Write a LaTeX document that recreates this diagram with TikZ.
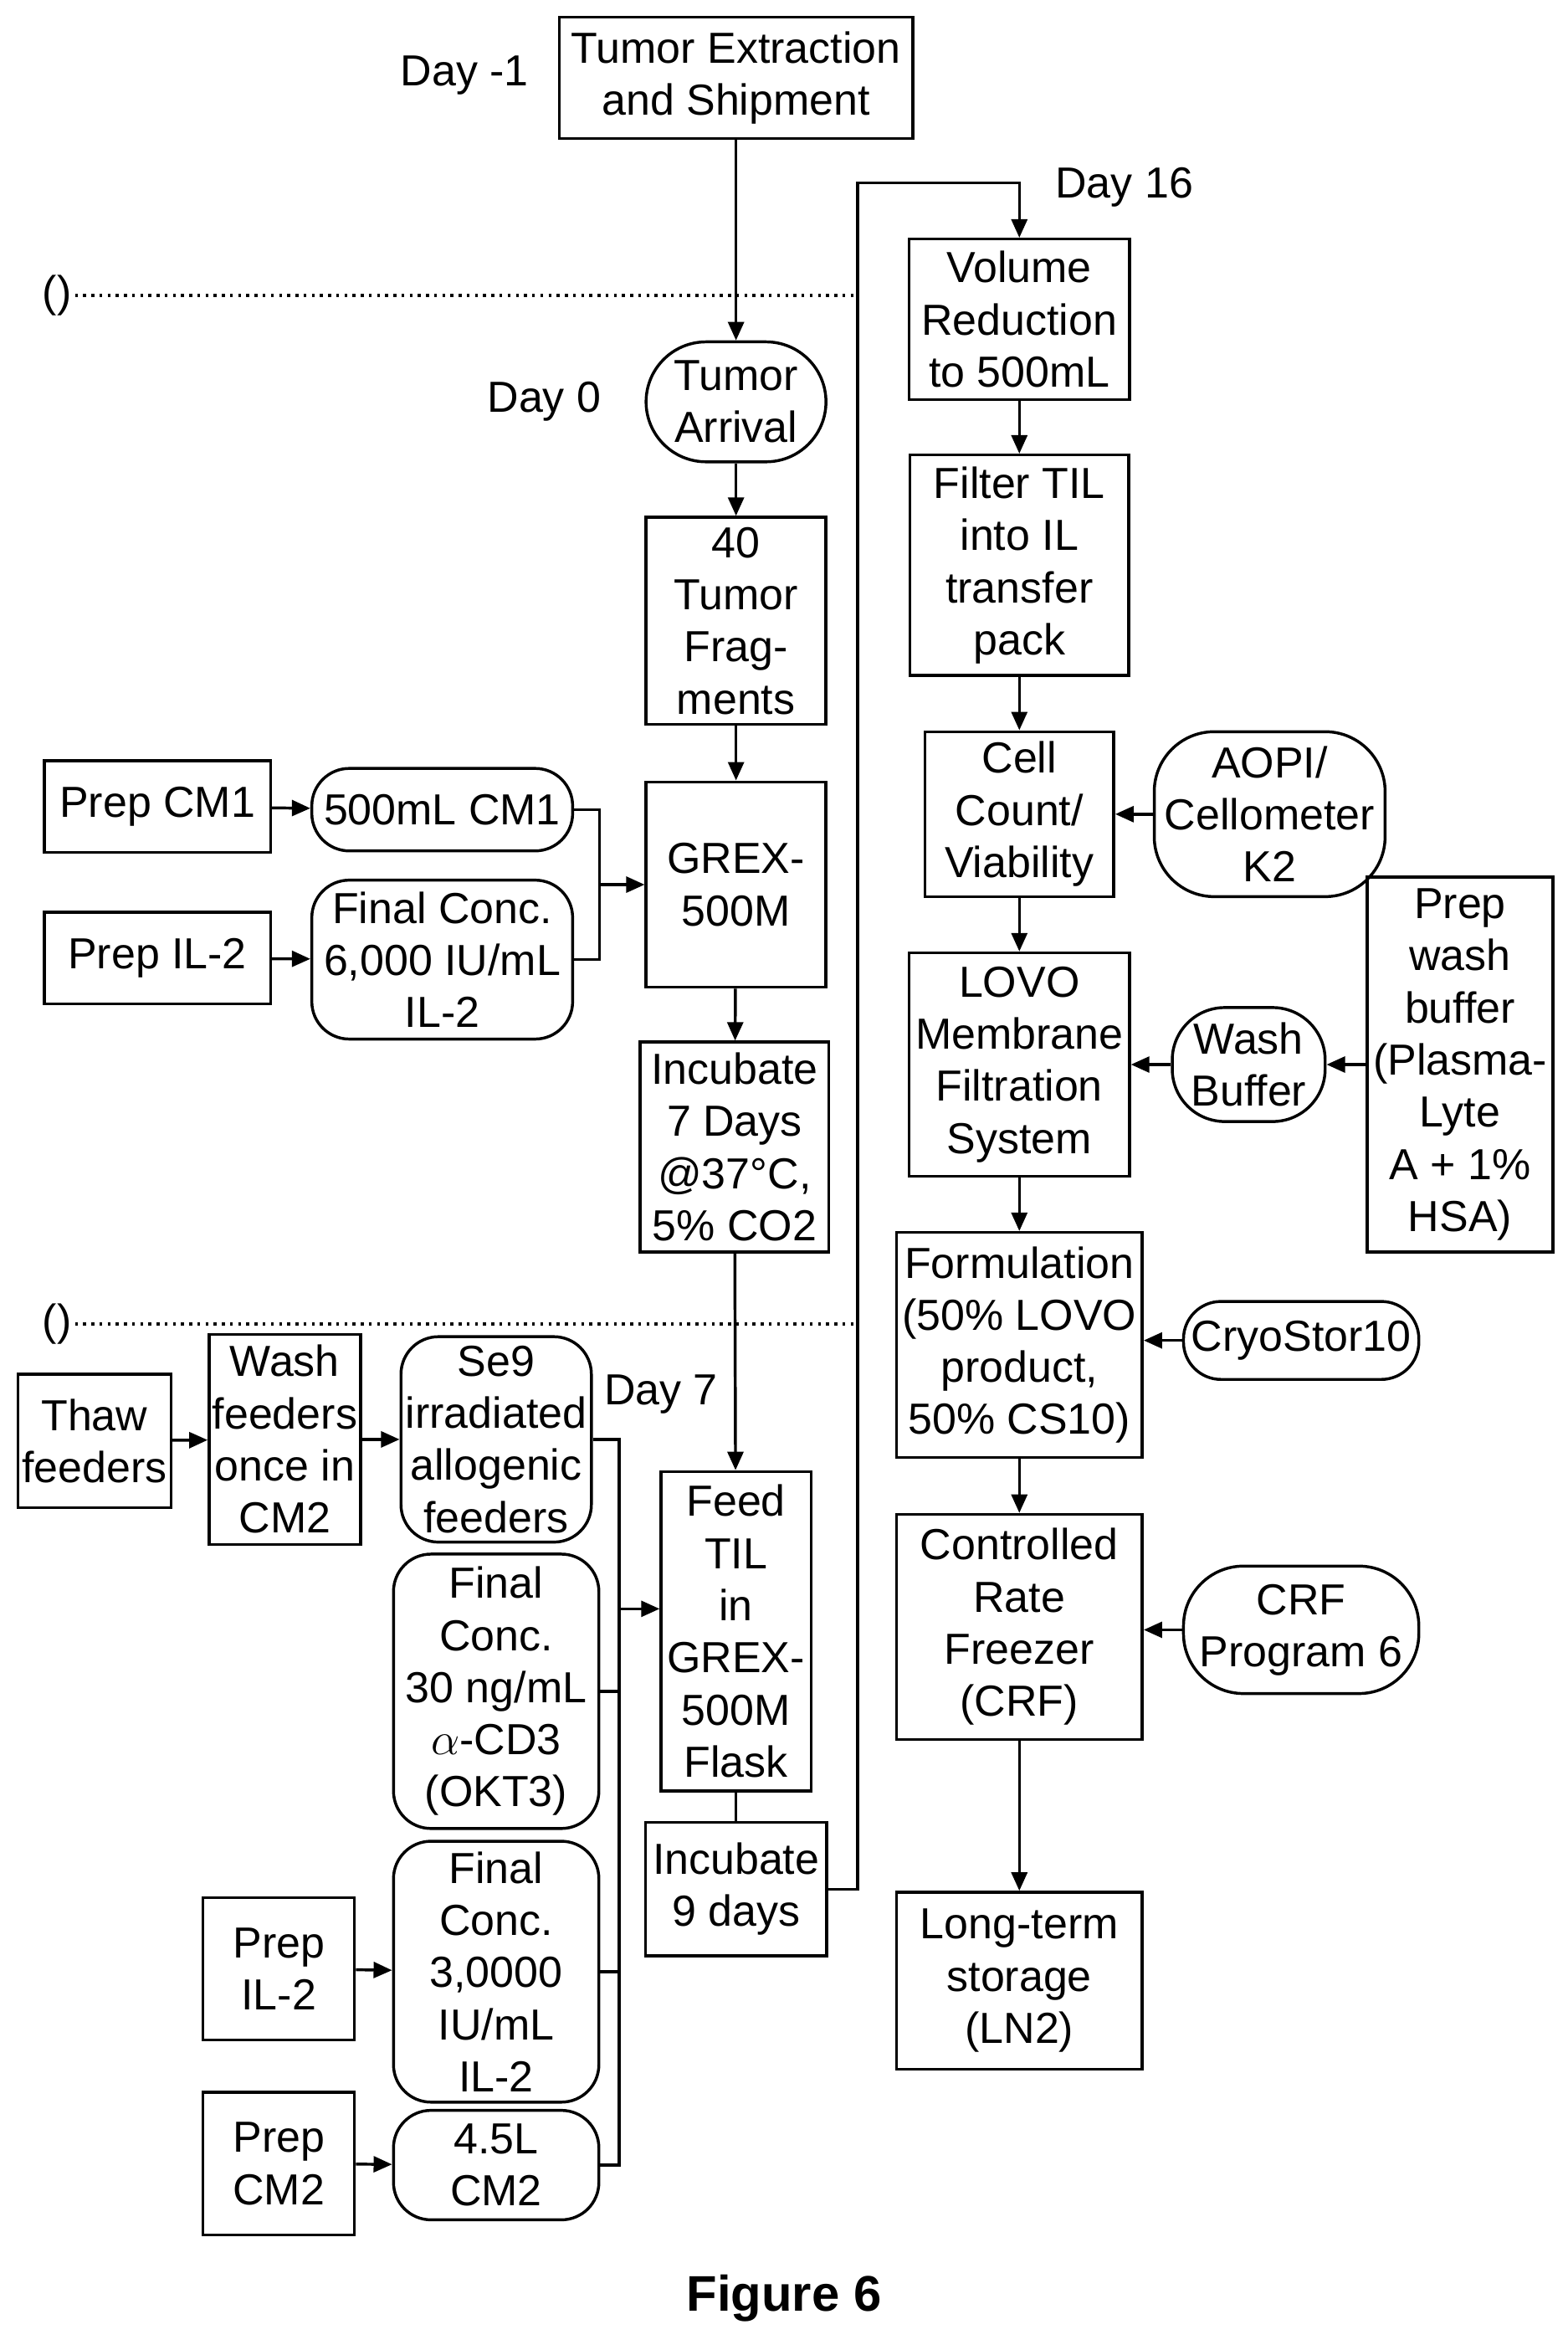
\documentclass[tikz,border=0pt]{standalone}
\usepackage{fontspec}
\setmainfont{Liberation Sans}
\usetikzlibrary{arrows.meta}
\tikzset{
  box/.style={draw, line width=1.1pt, align=center, inner sep=1pt},
  pill/.style={box, rounded corners=0.5cm},
  flow/.style={line width=1.1pt, -{Triangle[length=7pt,width=6pt]}},
  link/.style={line width=1.1pt},
  sep/.style={line width=1.1pt, dotted},
  lbl/.style={inner sep=0pt}
}
\begin{document}
\begin{tikzpicture}[x=0.02cm, y=-0.02cm, font=\fontsize{16.5}{19.8}\selectfont]
  \useasboundingbox (0,0) rectangle (1046,1564);

  % main column
  \node[box, minimum width=236*0.02cm, minimum height=81*0.02cm] (extr) at (491,52) {Tumor Extraction\\and Shipment};
  \node[lbl] (dm1) at (310,50) {Day -1};
  \node[pill, rounded corners=0.8cm, minimum width=120*0.02cm, minimum height=80*0.02cm] (arr) at (491,268) {Tumor\\Arrival};
  \node[lbl] (d0) at (363,268) {Day 0};
  \node[box, minimum width=120*0.02cm, minimum height=138*0.02cm] (frag) at (491,414) {40\\Tumor\\Frag-\\ments};
  \node[box, minimum width=120*0.02cm, minimum height=137*0.02cm] (grex) at (491,590) {GREX-\\500M};
  \node[box, minimum width=126*0.02cm, minimum height=140*0.02cm] (inc7) at (490,765) {Incubate\\7 Days\\@37°C,\\5\% CO2};
  \node[lbl] (d7) at (441,930) {Day 7};
  \node[box, minimum width=100*0.02cm, minimum height=213*0.02cm] (feed) at (491,1088) {Feed\\TIL\\in\\GREX-\\500M\\Flask};
  \node[box, minimum width=121*0.02cm, minimum height=89*0.02cm] (inc9) at (491,1260) {Incubate\\9 days};

  % day 0 inputs
  \node[box, minimum width=151*0.02cm, minimum height=61*0.02cm] (pcm1) at (105,538) {Prep CM1};
  \node[pill, minimum width=174*0.02cm, minimum height=55*0.02cm] (cm1) at (295,540) {500mL CM1};
  \node[box, minimum width=151*0.02cm, minimum height=61*0.02cm] (pil2) at (105,639) {Prep IL-2};
  \node[pill, minimum width=174*0.02cm, minimum height=106*0.02cm] (il2) at (295,640) {Final Conc.\\6,000 IU/mL\\IL-2};

  % separators
  \node[lbl] (pa) at (38,197) {()};
  \node[lbl] (pb) at (38,883) {()};
  \draw[sep] (50,197) -- (572,197);
  \draw[sep] (50,883) -- (572,883);

  % day 7 inputs
  \node[box, minimum width=102*0.02cm, minimum height=89*0.02cm] (thaw) at (63,961) {Thaw\\feeders};
  \node[box, minimum width=101*0.02cm, minimum height=140*0.02cm] (wash) at (190,960) {Wash\\feeders\\once in\\CM2};
  \node[pill, minimum width=127*0.02cm, minimum height=137*0.02cm] (se9) at (331,960) {Se9\\irradiated\\allogenic\\feeders};
  \node[pill, minimum width=137*0.02cm, minimum height=183*0.02cm] (okt) at (331,1128) {Final\\Conc.\\30 ng/mL\\$\alpha$-CD3\\(OKT3)};
  \node[box, minimum width=101*0.02cm, minimum height=95*0.02cm] (pil2b) at (186,1313) {Prep\\IL-2};
  \node[pill, minimum width=137*0.02cm, minimum height=174*0.02cm] (il2b) at (331,1315) {Final\\Conc.\\3,0000\\IU/mL\\IL-2};
  \node[box, minimum width=101*0.02cm, minimum height=95*0.02cm] (pcm2) at (186,1443) {Prep\\CM2};
  \node[pill, minimum width=137*0.02cm, minimum height=73*0.02cm] (cm2) at (331,1444) {4.5L\\CM2};

  % right column
  \node[lbl] (d16) at (750,125) {Day 16};
  \node[box, minimum width=147*0.02cm, minimum height=107*0.02cm] (vol) at (680,213) {Volume\\Reduction\\to 500mL};
  \node[box, minimum width=146*0.02cm, minimum height=147*0.02cm] (filt) at (680,377) {Filter TIL\\into IL\\transfer\\pack};
  \node[box, minimum width=126*0.02cm, minimum height=110*0.02cm] (cnt) at (680,543) {Cell\\Count/\\Viability};
  \node[pill, rounded corners=0.8cm, minimum width=154*0.02cm, minimum height=110*0.02cm] (aopi) at (847,543) {AOPI/\\Cellometer\\K2};
  \node[box, minimum width=147*0.02cm, minimum height=149*0.02cm] (lovo) at (680,710) {LOVO\\Membrane\\Filtration\\System};
  \node[pill, rounded corners=0.7cm, minimum width=102*0.02cm, minimum height=76*0.02cm] (wbuf) at (833,710) {Wash\\Buffer};
  \node[box, minimum width=124*0.02cm, minimum height=250*0.02cm] (pwb) at (974,710) {Prep\\wash\\buffer\\(Plasma-\\Lyte\\A + 1\%\\HSA)};
  \node[box, minimum width=164*0.02cm, minimum height=150*0.02cm] (form) at (680,897) {Formulation\\(50\% LOVO\\product,\\50\% CS10)};
  \node[pill, minimum width=157*0.02cm, minimum height=52*0.02cm] (cryo) at (868,894) {CryoStor10};
  \node[box, minimum width=164*0.02cm, minimum height=150*0.02cm] (crf) at (680,1085) {Controlled\\Rate\\Freezer\\(CRF)};
  \node[pill, rounded corners=0.8cm, minimum width=157*0.02cm, minimum height=85*0.02cm] (crfp) at (868,1087) {CRF\\Program 6};
  \node[box, minimum width=164*0.02cm, minimum height=118*0.02cm] (ln2) at (680,1321) {Long-term\\storage\\(LN2)};

  \node[lbl, font=\fontsize{19}{22}\selectfont\bfseries] (fig) at (523,1533) {Figure 6};

  % connectors main column
  \draw[flow] (extr) -- (arr);
  \draw[flow] (arr) -- (frag);
  \draw[flow] (frag) -- (grex);
  \draw[flow] (grex) -- (inc7);
  \draw[flow] (inc7) -- (feed);
  \draw[link] (feed) -- (inc9);
  \draw[flow] (pcm1) -- (cm1);
  \draw[flow] (pil2) -- (il2);
  \coordinate (ja) at (400,590);
  \draw[link] (cm1.east) -| (ja) |- (il2.east);
  \draw[flow] (ja) -- (grex.west);
  \draw[flow] (thaw) -- (wash);
  \draw[flow] (wash) -- (se9);
  \draw[flow] (pil2b) -- (il2b);
  \draw[flow] (pcm2) -- (cm2);
  \coordinate (jb) at (413,1073);
  \draw[link] (se9.east) -| (jb) |- (cm2.east);
  \draw[link] (okt.east) -- (okt.east -| jb);
  \draw[link] (il2b.east) -- (il2b.east -| jb);
  \draw[flow] (jb) -- (jb -| feed.west);

  % right column connectors
  \coordinate (up) at (572,122);
  \draw[flow] (inc9.east) -| (up) -| (vol.north);
  \draw[flow] (vol) -- (filt);
  \draw[flow] (filt) -- (cnt);
  \draw[flow] (cnt) -- (lovo);
  \draw[flow] (aopi) -- (cnt);
  \draw[flow] (pwb) -- (wbuf);
  \draw[flow] (wbuf) -- (lovo);
  \draw[flow] (lovo) -- (form);
  \draw[flow] (cryo) -- (form.east |- cryo);
  \draw[flow] (form) -- (crf);
  \draw[flow] (crfp) -- (crf.east |- crfp);
  \draw[flow] (crf) -- (ln2);
\end{tikzpicture}
\end{document}
